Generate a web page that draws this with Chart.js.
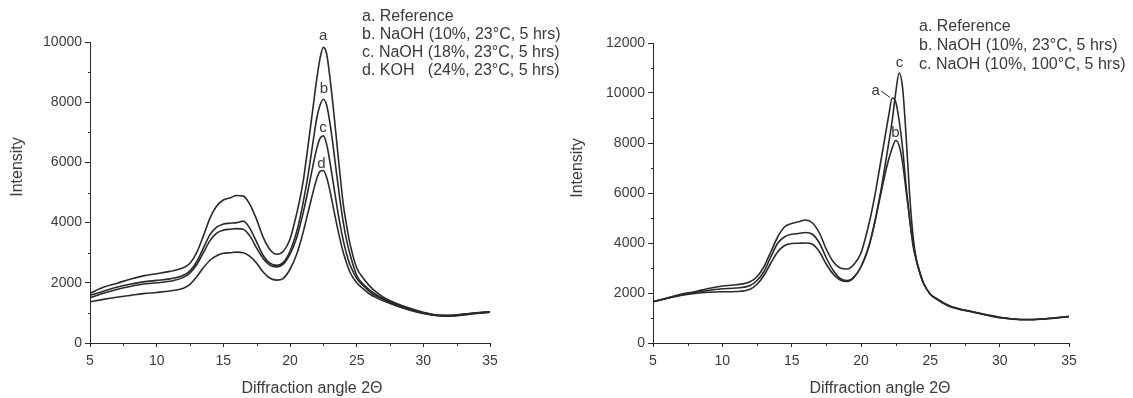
<!DOCTYPE html>
<html>
<head>
<meta charset="utf-8">
<script src="https://cdn.jsdelivr.net/npm/chart.js@4.4.1/dist/chart.umd.min.js"></script>
<style>
  body { margin: 0; background: #fff; }
  .wrap { position: absolute; top: 0; height: 398px; }
</style>
</head>
<body>
<div class="wrap" style="left:0; width:560px"><canvas id="left"></canvas></div>
<div class="wrap" style="left:560px; width:573px"><canvas id="right"></canvas></div>
<script>
// diffraction angle 2θ, shared by every curve
const angles = [5,6,7,8,9,10,11,12,12.5,13,13.5,14,14.5,15,15.5,16,16.5,17,17.5,18,18.5,19,19.5,20,
  20.5,20.75,21,21.25,21.5,21.75,22,22.25,22.5,22.75,23,23.25,23.5,23.75,24,24.25,24.5,
  25,25.5,26,26.5,27,28,29,30,31,32,33,34,35];

// left panel
const leftA = [1650,1850,1980,2120,2230,2300,2380,2500,2650,3000,3550,4150,4550,4750,4820,4900,4880,4600,4100,3500,3100,2950,3050,3450,
  4300,4800,5400,6200,7050,7900,8750,9450,9820,9600,8800,7800,6700,5600,4600,3900,3300,
  2500,2150,1880,1680,1520,1310,1150,1020,930,920,960,1000,1040];
const leftB = [1580,1720,1850,1950,2030,2080,2130,2250,2400,2700,3150,3600,3850,3950,3980,4000,4050,3800,3350,2900,2650,2580,2680,3050,
  3700,4150,4700,5300,6000,6750,7450,7900,8100,7900,7300,6500,5600,4750,4000,3400,2950,
  2250,1950,1750,1600,1470,1280,1130,1000,930,910,950,1000,1040];
const leftC = [1500,1650,1780,1880,1960,2000,2050,2180,2330,2600,3000,3400,3650,3750,3780,3800,3780,3550,3150,2800,2580,2530,2620,2950,
  3500,3900,4350,4850,5400,5950,6450,6800,6880,6600,6000,5300,4600,3950,3400,2950,2600,
  2150,1900,1700,1560,1450,1260,1110,990,920,900,940,990,1030];
const leftD = [1370,1450,1520,1580,1640,1680,1730,1820,1950,2200,2500,2750,2900,2980,3000,3020,3000,2880,2650,2350,2150,2090,2150,2450,
  2950,3300,3700,4150,4600,5050,5450,5700,5730,5500,5050,4500,3950,3450,3000,2650,2350,
  2000,1800,1620,1500,1400,1230,1090,980,910,890,930,980,1020];
const leftLegend = ['a. Reference', 'b. NaOH (10%, 23\u00b0C, 5 hrs)', 'c. NaOH (18%, 23\u00b0C, 5 hrs)', 'd. KOH   (24%, 23\u00b0C, 5 hrs)'];
const leftTags = [['a', 22.48, 10200], ['b', 22.55, 8440], ['c', 22.48, 7150], ['d', 22.35, 5960]];

// right panel
const rightA = [1650,1800,1950,2050,2180,2280,2330,2450,2650,3050,3650,4250,4650,4780,4850,4920,4800,4400,3750,3250,3000,2960,3150,3600,
  4600,5200,5900,6700,7500,8300,9100,9800,9650,8900,7800,6300,5000,3900,3300,2800,2400,
  1950,1750,1580,1450,1370,1250,1130,1020,960,940,960,1000,1060];
const rightB = [1650,1780,1900,1980,2030,2050,2060,2150,2350,2700,3200,3650,3900,3980,3990,4000,3950,3650,3150,2750,2520,2460,2620,3050,
  3750,4250,4850,5500,6150,6800,7350,7800,8100,7900,7200,6100,5000,4000,3300,2800,2400,
  1950,1740,1570,1440,1360,1240,1120,1010,950,930,950,990,1050];
const rightC = [1650,1790,1920,2020,2100,2170,2200,2300,2500,2850,3450,4000,4250,4350,4380,4420,4350,4000,3400,2900,2580,2500,2650,3050,
  3750,4250,4850,5550,6300,7150,8000,8900,10000,10800,10200,8300,6000,4300,3300,2800,2400,
  1950,1760,1590,1460,1380,1260,1140,1030,960,940,960,1010,1070];
const rightLegend = ['a. Reference', 'b. NaOH (10%, 23\u00b0C, 5 hrs)', 'c. NaOH (10%, 100\u00b0C, 5 hrs)'];
const rightTags = [['a', 21.06, 10100], ['c', 22.78, 11220], ['b', 22.49, 8420]];

const FONT = '"Liberation Sans", Arial, sans-serif';
const INK = '#2a2a2a';
const TXT = '#3a3a3a';

function toPoints(ys) { return angles.map((x, i) => ({ x: x, y: ys[i] })); }

// text, minor ticks, axis titles
const extras = {
  id: 'extras',
  afterDraw(chart) {
    const o = chart.options.plugins.extras;
    const ctx = chart.ctx, xs = chart.scales.x, ys = chart.scales.y, area = chart.chartArea;
    ctx.save();
    ctx.strokeStyle = INK; ctx.lineWidth = 1;
    for (let v = 1000; v < o.ymax; v += 2000) {
      const py = Math.round(ys.getPixelForValue(v)) + 0.5;
      ctx.beginPath(); ctx.moveTo(area.left - 2, py); ctx.lineTo(area.left, py); ctx.stroke();
    }
    for (let v = 7.5; v < 35; v += 5) {
      const px = Math.round(xs.getPixelForValue(v)) + 0.5;
      ctx.beginPath(); ctx.moveTo(px, area.bottom); ctx.lineTo(px, area.bottom + 3); ctx.stroke();
    }
    ctx.fillStyle = TXT;
    ctx.font = '16px ' + FONT;
    ctx.textBaseline = 'middle';
    ctx.textAlign = 'left';
    o.legend.forEach((t, i) => ctx.fillText(t, o.legX, o.legY[i]));
    ctx.font = '15px ' + FONT;
    ctx.textAlign = 'center';
    o.tags.forEach(t => ctx.fillText(t[0], xs.getPixelForValue(t[1]), ys.getPixelForValue(t[2])));
    if (o.leader) {
      ctx.beginPath();
      ctx.moveTo(xs.getPixelForValue(o.leader[0]), ys.getPixelForValue(o.leader[1]));
      ctx.lineTo(xs.getPixelForValue(o.leader[2]), ys.getPixelForValue(o.leader[3]));
      ctx.stroke();
    }
    ctx.font = '16px ' + FONT;
    ctx.fillText('Diffraction angle 2\u0398', o.xTitle[0], o.xTitle[1]);
    ctx.translate(o.yTitle[0], o.yTitle[1]);
    ctx.rotate(-Math.PI / 2);
    ctx.fillText('Intensity', 0, 0);
    ctx.restore();
  }
};

function makeChart(id, series, ymax, axisW, padR, padT, extra) {
  const ctx = document.getElementById(id).getContext('2d');
  return new Chart(ctx, {
    type: 'line',
    data: {
      datasets: series.map(s => ({
        data: toPoints(s), borderColor: INK, borderWidth: 1.6,
        pointRadius: 0, cubicInterpolationMode: 'monotone', fill: false
      }))
    },
    options: {
      responsive: true, maintainAspectRatio: false, animation: false,
      layout: { padding: { left: 0, right: padR, top: padT, bottom: 0 } },
      plugins: { legend: { display: false }, tooltip: { enabled: false }, extras: extra },
      scales: {
        x: {
          type: 'linear', min: 5, max: 35,
          afterFit: s => { s.height = 55; },
          ticks: { stepSize: 5, color: TXT, padding: 6, font: { family: FONT, size: 14 }, callback: v => String(v) },
          grid: { drawOnChartArea: false, tickLength: 4, color: INK },
          border: { color: INK, width: 1 }
        },
        y: {
          min: 0, max: ymax,
          afterFit: s => { s.width = axisW; },
          ticks: { stepSize: 2000, color: TXT, padding: 3, font: { family: FONT, size: 14 }, callback: v => String(v) },
          grid: { drawOnChartArea: false, tickLength: 5, color: INK },
          border: { color: INK, width: 1 }
        }
      }
    },
    plugins: [extras]
  });
}

makeChart('left', [leftA, leftB, leftC, leftD], 10000, 90, 70, 42, {
  ymax: 10000, legend: leftLegend, legX: 362, legY: [17, 35, 53, 71], tags: leftTags,
  xTitle: [312, 389], yTitle: [18, 167]
});
makeChart('right', [rightA, rightB, rightC], 12000, 93, 64, 43, {
  ymax: 12000, legend: rightLegend, legX: 359, legY: [27, 46, 65], tags: rightTags,
  leader: [21.45, 10080, 22.1, 9820],
  xTitle: [320, 389], yTitle: [18, 168]
});
</script>
</body>
</html>
